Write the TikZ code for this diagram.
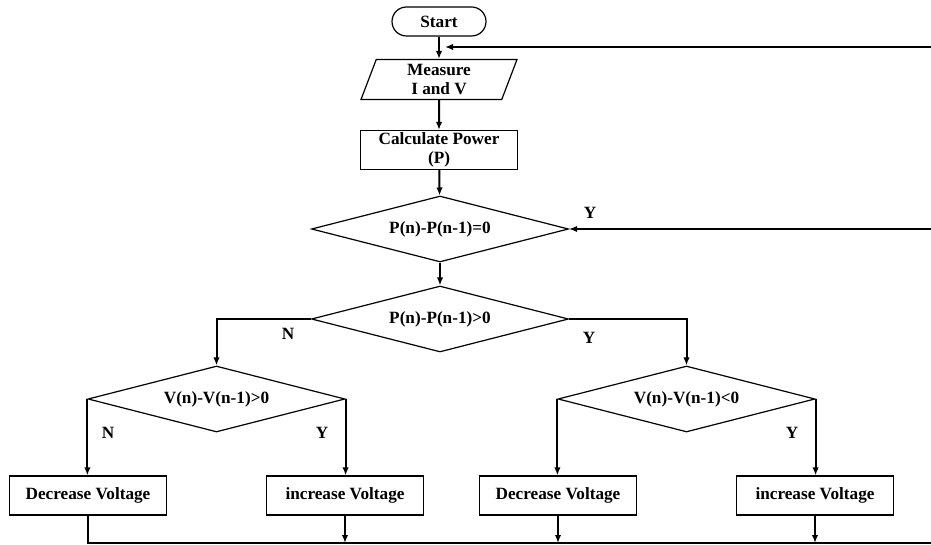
\documentclass[tikz,border=0pt]{standalone}
\usepackage{fontspec}
\setmainfont{Liberation Serif}
\usetikzlibrary{arrows.meta,shapes.geometric,positioning}

\begin{document}
\begin{tikzpicture}[x=.5pt, y=-.5pt, font=\fontsize{8.6}{9.2}\selectfont\bfseries,
    every node/.style={align=center, inner sep=0pt},
    procbox/.style={draw, line width=.6pt, minimum width=78.5pt, minimum height=19.5pt},
    decide/.style={draw, diamond, aspect=3.9, line width=.6pt, minimum width=128.5pt, minimum height=33pt},
    arr/.style={line width=1pt, -{Latex[length=4pt,width=3.2pt]}},
    wire/.style={line width=1pt}]
    \useasboundingbox (0,0) rectangle (931,545);

    % main column
    \node[procbox, rounded corners=7.25pt, minimum width=47pt, minimum height=14.5pt] (start) at (439,21.5) {Start};
    \node[draw, trapezium, trapezium left angle=63, trapezium right angle=117, trapezium stretches body,
          line width=.6pt, minimum width=78pt, minimum height=20pt] (measure) at (439,79.5) {Measure\\I and V};
    \node[procbox] (calc) at (439,150) {Calculate Power\\(P)};
    \node[decide] (d1) at (440,229) {P(n)-P(n-1)=0};
    \node[decide] (d2) at (440,319) {P(n)-P(n-1)>0};

    % voltage checks
    \node[decide] (d3) at (216.5,399) {V(n)-V(n-1)>0};
    \node[decide] (d4) at (686.5,399) {V(n)-V(n-1)<0};

    \node[procbox] (b1) at (88,495.5) {Decrease Voltage};
    \node[procbox] (b2) at (345,495.5) {increase Voltage};
    \node[procbox] (b3) at (558,495.5) {Decrease Voltage};
    \node[procbox] (b4) at (815,495.5) {increase Voltage};

    \draw[arr] (start) -- (measure);
    \draw[arr] (measure) -- (calc);
    \draw[arr] (calc) -- (d1);
    \draw[arr] (d1) -- (d2);
    \draw[arr] (d2.west) -| (d3.north);
    \draw[arr] (d2.east) -| (d4.north);
    \draw[arr] (d3.west) -- (d3.west |- b1.north);
    \draw[arr] (d3.east) -- (d3.east |- b2.north);
    \draw[arr] (d4.west) -- (d4.west |- b3.north);
    \draw[arr] (d4.east) -- (d4.east |- b4.north);

    % return lines
    \coordinate (busR) at (931,543);
    \draw[wire] (b1.south) |- (busR);
    \foreach \b in {b2,b3,b4}
    \draw[arr] (\b.south) -- (\b.south |- busR);
    \coordinate (loopTop) at (931,47);
    \coordinate (loopIn) at (445,47);
    \draw[arr] (loopTop) -- (loopIn);
    \coordinate (loopMid) at (931,229);
    \draw[arr] (loopMid) -- (d1.east);

    % labels
    \node (yd1) at (590,213) {Y};
    \node (nd2) at (288,334) {N};
    \node (yd2) at (589,338) {Y};
    \node (nd3) at (108,433) {N};
    \node (yd3) at (322,433) {Y};
    \node (yd4) at (792,433) {Y};
\end{tikzpicture}
\end{document}
